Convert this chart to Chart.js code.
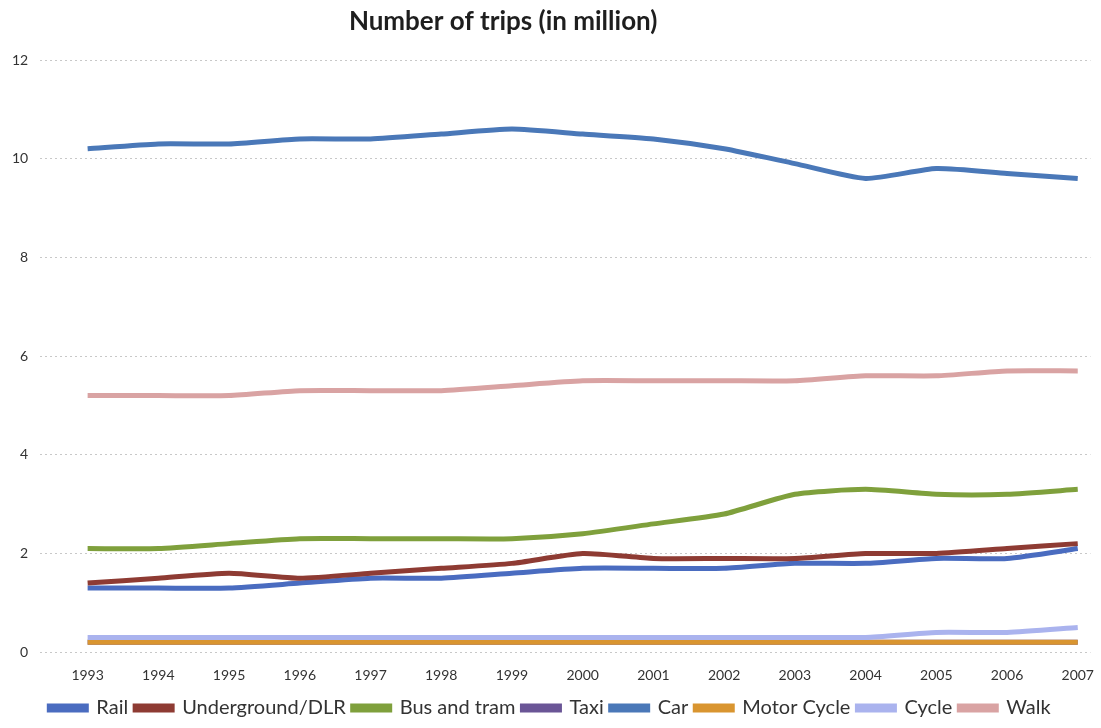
<!DOCTYPE html>
<html lang="en">
<head>
  <meta charset="UTF-8">
  <title>Number of trips</title>
  <script src="https://cdn.jsdelivr.net/npm/chart.js"></script>
  <style>
    html, body { margin: 0; padding: 0; background: #fff; }
    .chart-container { width: 1101px; height: 728px; }
  </style>
</head>
<body>
  <div class="chart-container"><canvas id="tripsChart"></canvas></div>
  <script>
    const years = [1993, 1994, 1995, 1996, 1997, 1998, 1999, 2000, 2001, 2002, 2003, 2004, 2005, 2006, 2007];

    const rail        = [1.3, 1.3, 1.3, 1.4, 1.5, 1.5, 1.6, 1.7, 1.7, 1.7, 1.8, 1.8, 1.9, 1.9, 2.1];
    const underground = [1.4, 1.5, 1.6, 1.5, 1.6, 1.7, 1.8, 2.0, 1.9, 1.9, 1.9, 2.0, 2.0, 2.1, 2.2];
    const busTram     = [2.1, 2.1, 2.2, 2.3, 2.3, 2.3, 2.3, 2.4, 2.6, 2.8, 3.2, 3.3, 3.2, 3.2, 3.3];
    const taxi        = [0.2, 0.2, 0.2, 0.2, 0.2, 0.2, 0.2, 0.2, 0.2, 0.2, 0.2, 0.2, 0.2, 0.2, 0.2];
    const car         = [10.2, 10.3, 10.3, 10.4, 10.4, 10.5, 10.6, 10.5, 10.4, 10.2, 9.9, 9.6, 9.8, 9.7, 9.6];
    const motorCycle  = [0.2, 0.2, 0.2, 0.2, 0.2, 0.2, 0.2, 0.2, 0.2, 0.2, 0.2, 0.2, 0.2, 0.2, 0.2];
    const cycle       = [0.3, 0.3, 0.3, 0.3, 0.3, 0.3, 0.3, 0.3, 0.3, 0.3, 0.3, 0.3, 0.4, 0.4, 0.5];
    const walk        = [5.2, 5.2, 5.2, 5.3, 5.3, 5.3, 5.4, 5.5, 5.5, 5.5, 5.5, 5.6, 5.6, 5.7, 5.7];

    const yTicks = [0, 2, 4, 6, 8, 10, 12];
    const chartTitle = 'Number of trips (in million)';

    // order: lower numbers are painted on top
    const seriesList = [
      { label: 'Rail', values: rail, color: '#4a6cc0', order: 3 },
      { label: 'Underground/DLR', values: underground, color: '#8e3b33', order: 2 },
      { label: 'Bus and tram', values: busTram, color: '#7fa03c', order: 4 },
      { label: 'Taxi', values: taxi, color: '#6a5596', order: 9 },
      { label: 'Car', values: car, color: '#4a78b8', order: 5 },
      { label: 'Motor Cycle', values: motorCycle, color: '#d99530', order: 7 },
      { label: 'Cycle', values: cycle, color: '#aab3ee', order: 6 },
      { label: 'Walk', values: walk, color: '#d9a3a3', order: 8 }
    ];

    const datasets = seriesList.map(s => ({
      label: s.label,
      data: s.values.map((v, i) => ({ x: years[i], y: v })),
      borderColor: s.color,
      backgroundColor: s.color,
      borderWidth: 5,
      pointRadius: 0,
      tension: 0.2,
      order: s.order,
      fill: false
    }));

    // title sits a bit left of centre in the original, so draw it by hand
    const titlePlugin = {
      id: 'offsetTitle',
      afterDraw(chart) {
        const ctx = chart.ctx;
        ctx.save();
        ctx.font = 'bold 26px Lato';
        ctx.fillStyle = '#1e1e1e';
        ctx.textAlign = 'center';
        ctx.textBaseline = 'middle';
        ctx.fillText(chartTitle, chart.width * 0.457, 22);
        ctx.restore();
      }
    };

    new Chart(document.getElementById('tripsChart').getContext('2d'), {
      type: 'line',
      data: { datasets: datasets },
      options: {
        responsive: true,
        maintainAspectRatio: false,
        animation: false,
        layout: { padding: { top: 60, right: 1, left: 0, bottom: 0 } },
        scales: {
          x: {
            type: 'linear',
            min: 1992.33,
            max: 2007.18,
            grid: { display: false },
            border: { display: false },
            ticks: {
              stepSize: 1,
              includeBounds: false,
              autoSkip: false,
              maxRotation: 0,
              color: '#333',
              font: { family: 'Lato', size: 14 },
              padding: 7,
              callback: v => String(v)
            }
          },
          y: {
            min: 0,
            max: 12,
            afterBuildTicks: axis => { axis.ticks = yTicks.map(v => ({ value: v })); },
            grid: { color: '#c8c8c8', drawTicks: false },
            border: { display: false, dash: [2, 3] },
            ticks: {
              color: '#333',
              font: { family: 'Lato', size: 14 },
              padding: 12
            }
          }
        },
        plugins: {
          title: { display: false },
          legend: {
            position: 'bottom',
            labels: {
              boxWidth: 37,
              boxHeight: 4,
              padding: 7,
              color: '#333',
              font: { family: 'Lato', size: 20 },
              sort: (a, b) => a.datasetIndex - b.datasetIndex
            }
          },
          tooltip: { enabled: false }
        }
      },
      plugins: [titlePlugin]
    });
  </script>
</body>
</html>
